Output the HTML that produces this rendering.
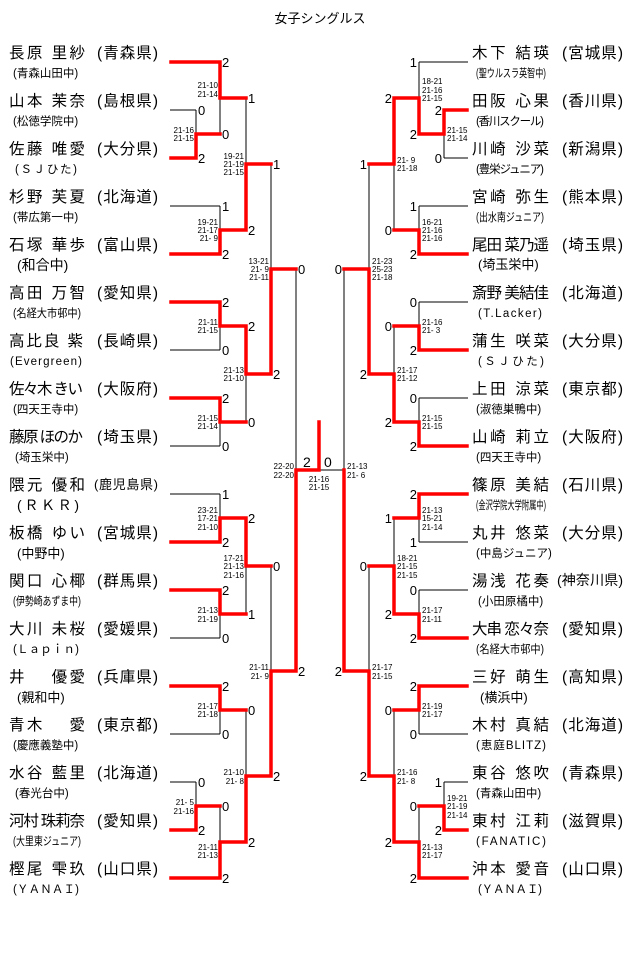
<!DOCTYPE html>
<html><head><meta charset="utf-8"><style>
html,body{margin:0;padding:0;background:#fff;}
svg{display:block;}
text{font-family:"Liberation Sans","Noto Sans CJK JP",sans-serif;fill:#000;}
.nm{font-size:15.5px;}
.sb{font-size:11.5px;}
.sc{font-size:8px;}
.lb{font-size:13px;}
</style></head><body>
<svg width="640" height="957" viewBox="0 0 640 957" xmlns="http://www.w3.org/2000/svg">
<text x="320" y="23" text-anchor="middle" style="font-size:13px">女子シングルス</text>
<g fill="none" stroke="#000" stroke-width="1">
<path d="M170 62H220 M170 110H196 M170 158H196 M170 206H220 M170 254H220 M170 302H220 M170 350H220 M170 398H220 M170 446H220 M170 494H220 M170 542H220 M170 590H220 M170 638H220 M170 686H220 M170 734H220 M170 782H196 M170 830H196 M170 878H220
M196 110V158 M196 134H220 M220 62V134 M220 98H246 M220 206V254 M220 230H246 M246 98V230 M246 164H271 M220 302V350 M220 326H246 M220 398V446 M220 422H246 M246 326V422 M246 374H271 M271 164V374 M271 269H296 M220 494V542 M220 518H246 M220 590V638 M220 614H246 M246 518V614 M246 566H271 M220 686V734 M220 710H246 M196 782V830 M196 806H220 M220 806V878 M220 842H246 M246 710V842 M246 776H271 M271 566V776 M271 671H296 M296 269V671 M296 470H344"/>
<path d="M468 62H419 M468 110H444 M468 158H444 M468 206H419 M468 254H419 M468 302H419 M468 350H419 M468 398H419 M468 446H419 M468 494H419 M468 542H419 M468 590H419 M468 638H419 M468 686H419 M468 734H419 M468 782H444 M468 830H444 M468 878H419
M444 110V158 M444 134H419 M419 62V134 M419 98H394 M419 206V254 M419 230H394 M394 98V230 M394 164H369 M419 302V350 M419 326H394 M419 398V446 M419 422H394 M394 326V422 M394 374H369 M369 164V374 M369 269H344 M419 494V542 M419 518H394 M419 590V638 M419 614H394 M394 518V614 M394 566H369 M419 686V734 M419 710H394 M444 782V830 M444 806H419 M419 806V878 M419 842H394 M394 710V842 M394 776H369 M369 566V776 M369 671H344 M344 269V671"/>
</g>
<g fill="none" stroke="#ff0000" stroke-width="3.5" stroke-linejoin="miter" stroke-linecap="square">
<path d="M171 62H220V98H246"/>
<path d="M171 158H196V134H220"/>
<path d="M171 254H220V230H246V164H271"/>
<path d="M171 302H220V326H246V374H271V269H296"/>
<path d="M171 398H220V422H246"/>
<path d="M171 542H220V518H246V566H271"/>
<path d="M171 590H220V614H246"/>
<path d="M171 686H220V710H246"/>
<path d="M171 830H196V806H220"/>
<path d="M171 878H220V842H246V776H271V671H296V470H319V422"/>
<path d="M467 110H444V134H419V98H394V164H369"/>
<path d="M467 254H419V230H394"/>
<path d="M467 350H419V326H394"/>
<path d="M467 446H419V422H394V374H369V269H344"/>
<path d="M467 494H419V518H394"/>
<path d="M467 638H419V614H394V566H369"/>
<path d="M467 686H419V710H394"/>
<path d="M467 830H444V806H419"/>
<path d="M467 878H419V842H394V776H369V671H344V470"/>
</g>
<g class="lb">
<text x="222" y="67">2</text><text x="198" y="115">0</text><text x="198" y="163">2</text><text x="222" y="139">0</text><text x="248" y="103">1</text>
<text x="222" y="211">1</text><text x="222" y="259">2</text><text x="248" y="235">2</text><text x="273" y="169">1</text>
<text x="222" y="307">2</text><text x="222" y="355">0</text><text x="248" y="331">2</text><text x="222" y="403">2</text><text x="222" y="451">0</text><text x="248" y="427">0</text><text x="273" y="379">2</text><text x="298" y="274">0</text>
<text x="222" y="499">1</text><text x="222" y="547">2</text><text x="248" y="523">2</text><text x="222" y="595">2</text><text x="222" y="643">0</text><text x="248" y="619">1</text><text x="273" y="571">0</text>
<text x="222" y="691">2</text><text x="222" y="739">0</text><text x="248" y="715">0</text><text x="198" y="787">0</text><text x="198" y="835">2</text><text x="222" y="811">0</text><text x="222" y="883">2</text><text x="248" y="847">2</text><text x="273" y="781">2</text><text x="298" y="676">2</text>
</g>
<g class="lb" text-anchor="end">
<text x="417" y="67">1</text><text x="442" y="115">2</text><text x="442" y="163">0</text><text x="417" y="139">2</text><text x="392" y="103">2</text>
<text x="417" y="211">1</text><text x="417" y="259">2</text><text x="392" y="235">0</text><text x="367" y="169">1</text>
<text x="417" y="307">0</text><text x="417" y="355">2</text><text x="392" y="331">0</text><text x="417" y="403">0</text><text x="417" y="451">2</text><text x="392" y="427">2</text><text x="367" y="379">2</text><text x="342" y="274">0</text>
<text x="417" y="499">2</text><text x="417" y="547">1</text><text x="392" y="523">1</text><text x="417" y="595">0</text><text x="417" y="643">2</text><text x="392" y="619">2</text><text x="367" y="571">0</text><text x="342" y="676">2</text>
<text x="417" y="691">2</text><text x="417" y="739">0</text><text x="392" y="715">0</text><text x="442" y="787">1</text><text x="442" y="835">2</text><text x="417" y="811">0</text><text x="417" y="883">2</text><text x="392" y="847">2</text><text x="367" y="781">2</text>
</g>
<text x="303" y="467" style="font-size:14px">2</text><text x="324" y="467" style="font-size:14px">0</text>
<g class="sc" text-anchor="end">
<text x="218" y="88">21-10</text><text x="218" y="97">21-14</text>
<text x="194" y="133">21-16</text><text x="194" y="141">21-15</text>
<text x="244" y="159">19-21</text><text x="244" y="167">21-19</text><text x="244" y="175">21-15</text>
<text x="218" y="225">19-21</text><text x="218" y="233">21-17</text><text x="218" y="241">21- 9</text>
<text x="269" y="264">13-21</text><text x="269" y="272">21- 9</text><text x="269" y="280">21-11</text>
<text x="218" y="325">21-11</text><text x="218" y="333">21-15</text>
<text x="244" y="373">21-13</text><text x="244" y="381">21-10</text>
<text x="218" y="421">21-15</text><text x="218" y="429">21-14</text>
<text x="294" y="469">22-20</text><text x="294" y="478">22-20</text>
<text x="218" y="513">23-21</text><text x="218" y="521">17-21</text><text x="218" y="530">21-10</text>
<text x="244" y="561">17-21</text><text x="244" y="569">21-13</text><text x="244" y="578">21-16</text>
<text x="218" y="613">21-13</text><text x="218" y="622">21-19</text>
<text x="269" y="670">21-11</text><text x="269" y="679">21- 9</text>
<text x="218" y="709">21-17</text><text x="218" y="717">21-18</text>
<text x="244" y="775">21-10</text><text x="244" y="784">21- 8</text>
<text x="194" y="805">21- 5</text><text x="194" y="814">21-16</text>
<text x="218" y="850">21-11</text><text x="218" y="858">21-13</text>
</g>
<g class="sc" text-anchor="middle"><text x="319" y="482">21-16</text><text x="319" y="490">21-15</text></g>
<g class="sc">
<text x="422" y="84">18-21</text><text x="422" y="93">21-16</text><text x="422" y="101">21-15</text>
<text x="447" y="133">21-15</text><text x="447" y="141">21-14</text>
<text x="397" y="163">21- 9</text><text x="397" y="171">21-18</text>
<text x="422" y="225">16-21</text><text x="422" y="233">21-16</text><text x="422" y="241">21-16</text>
<text x="372" y="264">21-23</text><text x="372" y="272">25-23</text><text x="372" y="280">21-18</text>
<text x="422" y="325">21-16</text><text x="422" y="333">21- 3</text>
<text x="397" y="373">21-17</text><text x="397" y="381">21-12</text>
<text x="422" y="421">21-15</text><text x="422" y="429">21-15</text>
<text x="347" y="469">21-13</text><text x="347" y="478">21- 6</text>
<text x="422" y="513">21-13</text><text x="422" y="521">15-21</text><text x="422" y="530">21-14</text>
<text x="397" y="561">18-21</text><text x="397" y="569">21-15</text><text x="397" y="578">21-15</text>
<text x="422" y="613">21-17</text><text x="422" y="622">21-11</text>
<text x="372" y="670">21-17</text><text x="372" y="679">21-15</text>
<text x="422" y="709">21-19</text><text x="422" y="717">21-17</text>
<text x="397" y="775">21-16</text><text x="397" y="784">21- 8</text>
<text x="447" y="801">19-21</text><text x="447" y="809">21-19</text><text x="447" y="818">21-14</text>
<text x="422" y="850">21-13</text><text x="422" y="858">21-17</text>
</g>
<g class="nm">
<text x="9" y="58" textLength="76">長原 里紗</text><text x="97" y="58" textLength="61">(青森県)</text>
<text x="9" y="106" textLength="76">山本 茉奈</text><text x="97" y="106" textLength="61">(島根県)</text>
<text x="9" y="154" textLength="76">佐藤 唯愛</text><text x="97" y="154" textLength="61">(大分県)</text>
<text x="9" y="202" textLength="76">杉野 芙夏</text><text x="97" y="202" textLength="61">(北海道)</text>
<text x="9" y="250" textLength="76">石塚 華歩</text><text x="97" y="250" textLength="61">(富山県)</text>
<text x="9" y="298" textLength="76">高田 万智</text><text x="97" y="298" textLength="61">(愛知県)</text>
<text x="9" y="346" textLength="74">高比良 紫</text><text x="97" y="346" textLength="61">(長崎県)</text>
<text x="9" y="394" textLength="74">佐々木 きい</text><text x="97" y="394" textLength="61">(大阪府)</text>
<text x="9" y="442" textLength="74">藤原 ほのか</text><text x="97" y="442" textLength="61">(埼玉県)</text>
<text x="9" y="490" textLength="76">隈元 優和</text><text x="94" y="489" textLength="64" style="font-size:13px">(鹿児島県)</text>
<text x="9" y="538" textLength="76">板橋 ゆい</text><text x="97" y="538" textLength="61">(宮城県)</text>
<text x="9" y="586" textLength="76">関口 心椰</text><text x="97" y="586" textLength="61">(群馬県)</text>
<text x="9" y="634" textLength="76">大川 未桜</text><text x="97" y="634" textLength="61">(愛媛県)</text>
<text x="9" y="682" textLength="76">井　 優愛</text><text x="97" y="682" textLength="61">(兵庫県)</text>
<text x="9" y="730" textLength="76">青木　 愛</text><text x="97" y="730" textLength="61">(東京都)</text>
<text x="9" y="778" textLength="76">水谷 藍里</text><text x="97" y="778" textLength="61">(北海道)</text>
<text x="9" y="826" textLength="76">河村 珠莉奈</text><text x="97" y="826" textLength="61">(愛知県)</text>
<text x="9" y="874" textLength="76">樫尾 雫玖</text><text x="97" y="874" textLength="61">(山口県)</text>
</g>
<g class="sb">
<text x="13" y="77">(青森山田中)</text>
<text x="13" y="125">(松徳学院中)</text>
<text x="15" y="173" textLength="62">(ＳＪひた)</text>
<text x="13" y="221">(帯広第一中)</text>
<text x="17" y="270" style="font-size:14px">(和合中)</text>
<text x="13" y="317" textLength="68" lengthAdjust="spacingAndGlyphs">(名経大市邨中)</text>
<text x="10" y="365" textLength="72">(Evergreen)</text>
<text x="13" y="413">(四天王寺中)</text>
<text x="15" y="461">(埼玉栄中)</text>
<text x="17" y="510" style="font-size:14px" textLength="62">(ＲＫＲ)</text>
<text x="17" y="558" style="font-size:13px">(中野中)</text>
<text x="13" y="605" textLength="68" lengthAdjust="spacingAndGlyphs">(伊勢崎あずま中)</text>
<text x="13" y="653" textLength="66">(Ｌａｐｉｎ)</text>
<text x="17" y="702" style="font-size:13px">(親和中)</text>
<text x="13" y="749">(慶應義塾中)</text>
<text x="15" y="797">(春光台中)</text>
<text x="13" y="845" textLength="68" lengthAdjust="spacingAndGlyphs">(大里東ジュニア)</text>
<text x="13" y="893" textLength="66">(ＹＡＮＡＩ)</text>
</g>
<g class="nm">
<text x="472" y="58" textLength="77">木下 結瑛</text><text x="562" y="58" textLength="61">(宮城県)</text>
<text x="472" y="106" textLength="77">田阪 心果</text><text x="562" y="106" textLength="61">(香川県)</text>
<text x="472" y="154" textLength="77">川崎 沙菜</text><text x="562" y="154" textLength="61">(新潟県)</text>
<text x="472" y="202" textLength="77">宮崎 弥生</text><text x="562" y="202" textLength="61">(熊本県)</text>
<text x="472" y="250" textLength="77">尾田 菜乃遥</text><text x="562" y="250" textLength="61">(埼玉県)</text>
<text x="472" y="298" textLength="77">斎野 美結佳</text><text x="562" y="298" textLength="61">(北海道)</text>
<text x="472" y="346" textLength="77">蒲生 咲菜</text><text x="562" y="346" textLength="61">(大分県)</text>
<text x="472" y="394" textLength="77">上田 涼菜</text><text x="562" y="394" textLength="61">(東京都)</text>
<text x="472" y="442" textLength="77">山崎 莉立</text><text x="562" y="442" textLength="61">(大阪府)</text>
<text x="472" y="490" textLength="77">篠原 美結</text><text x="562" y="490" textLength="61">(石川県)</text>
<text x="472" y="538" textLength="77">丸井 悠菜</text><text x="562" y="538" textLength="61">(大分県)</text>
<text x="472" y="586" textLength="77">湯浅 花奏</text><text x="557" y="585" textLength="66" style="font-size:14px">(神奈川県)</text>
<text x="472" y="634" textLength="77">大串 恋々奈</text><text x="562" y="634" textLength="61">(愛知県)</text>
<text x="472" y="682" textLength="77">三好 萌生</text><text x="562" y="682" textLength="61">(高知県)</text>
<text x="472" y="730" textLength="77">木村 真結</text><text x="562" y="730" textLength="61">(北海道)</text>
<text x="472" y="778" textLength="77">東谷 悠吹</text><text x="562" y="778" textLength="61">(青森県)</text>
<text x="472" y="826" textLength="77">東村 江莉</text><text x="562" y="826" textLength="61">(滋賀県)</text>
<text x="472" y="874" textLength="77">沖本 愛音</text><text x="562" y="874" textLength="61">(山口県)</text>
</g>
<g class="sb">
<text x="476" y="77" textLength="70" lengthAdjust="spacingAndGlyphs">(聖ウルスラ英智中)</text>
<text x="476" y="125" textLength="68">(香川スクール)</text>
<text x="476" y="173" textLength="68">(豊栄ジュニア)</text>
<text x="476" y="221" textLength="68" lengthAdjust="spacingAndGlyphs">(出水南ジュニア)</text>
<text x="478" y="269" style="font-size:13px">(埼玉栄中)</text>
<text x="478" y="317" textLength="64">(T.Lacker)</text>
<text x="478" y="365" textLength="66">(ＳＪひた)</text>
<text x="476" y="413">(淑徳巣鴨中)</text>
<text x="476" y="461">(四天王寺中)</text>
<text x="476" y="509" textLength="70" lengthAdjust="spacingAndGlyphs">(金沢学院大学附属中)</text>
<text x="476" y="557">(中島ジュニア)</text>
<text x="478" y="605">(小田原橘中)</text>
<text x="476" y="653" textLength="68" lengthAdjust="spacingAndGlyphs">(名経大市邨中)</text>
<text x="480" y="702" style="font-size:13px">(横浜中)</text>
<text x="476" y="749" textLength="70">(恵庭BLITZ)</text>
<text x="476" y="797">(青森山田中)</text>
<text x="476" y="845" textLength="70">(FANATIC)</text>
<text x="478" y="893" textLength="64">(ＹＡＮＡＩ)</text>
</g>
</svg>
</body></html>
